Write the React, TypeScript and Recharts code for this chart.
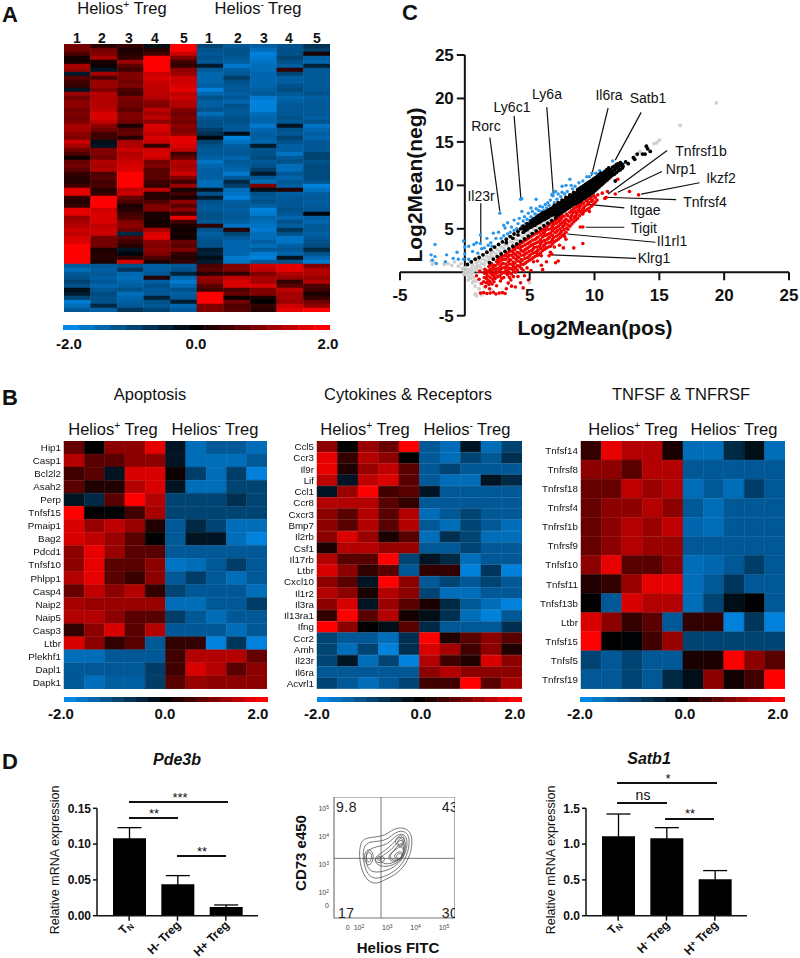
import React from "react";
import {
    Bar,
    BarChart,
    Cell,
    ErrorBar,
    ReferenceArea,
    ReferenceLine,
    Scatter,
    ScatterChart,
    XAxis,
    YAxis,
} from "recharts";

const FONT = "'Liberation Sans', Arial, sans-serif";

// --- heatmap values (z-score) ---
const heatA = [
    [0.9, 0.3, 0.4, -0.2, 2, -1, -1.3, -1.4, -1.2, -0.7],
    [0.9, 0.9, 0.2, 0.3, 2, -1.2, -1.2, -1.6, -1.2, -0.9],
    [0.6, 1, 0.3, 0.5, 1.6, -1.3, -1.2, -1.9, -1.2, 0.2],
    [0.15, 1.3, 0.4, 2, 1, -1.2, -1.3, -1.8, -1, -1.4],
    [0.15, 0.2, 1.2, 2, 0.5, -1.3, -1.4, -1.7, -1.2, -1.5],
    [1.3, 0.1, 0.7, 2, 0.4, -0.4, -1.8, -1.6, -1.4, -0.5],
    [1.2, -0.3, 0.5, 2, 1.1, -1.3, -1.4, -1.6, 0.4, -1.3],
    [-0.4, 1.3, 1, 1.6, 1.2, -1.5, -1.3, -1.5, -1, -1.3],
    [0.7, 0.6, 1, 1.7, 1.6, -1.5, -0.9, -1.5, -1.4, -1.3],
    [0.5, 1.2, 0.9, 1.6, 1.6, -1.5, -1.2, -1.5, -1.4, -1.3],
    [0.4, 1.2, 1, 1.5, 1.7, -1.4, -1.3, -1.5, -1.2, -1.3],
    [-0.3, 1, 0.6, 1.5, 1.8, -1.9, -1.3, -1.4, -1.1, -1.3],
    [1.2, 1.4, 0.5, 1.5, 1.5, -1.5, -1.4, -1.3, -1.3, -1.2],
    [0.9, 1.4, 1, 1.4, 1.6, -1.2, -1.3, -1.8, -1.5, -1.4],
    [1.1, 1.4, 0.9, 1.1, 1.4, -1.4, -1.5, -1.9, -1.4, -1.3],
    [1.1, 1.4, 0.9, 1, 1.4, -1.4, -1.2, -1.9, -1.3, -1.3],
    [0.9, 1.5, 0.7, 1.5, 1, -1.2, -1.3, -1.9, -1.3, -1.3],
    [1, 1.7, 1, 1.3, 0.9, -1.6, -1.3, -1.6, -1.3, -1.3],
    [0.9, 1.7, 1, 1.5, 1, -1.3, -1.2, -1.5, -1.2, -1.4],
    [1, 1.5, 0.9, 1.1, 0.9, -1.2, -1.2, -1.5, -1.3, -1.2],
    [1.3, 1.1, 0.2, 1.7, 1.1, -1.2, -1.3, -1.8, -0.3, -1.7],
    [1.3, 0.9, 0.7, 1.7, 1, -0.9, -1.3, -1.5, -1.2, -1.5],
    [1.1, 0.5, 0.8, 1.5, 1.1, -0.7, -0.2, -1.4, -1.3, -1.4],
    [1, 0.5, 0.3, 1.7, 1.8, -0.1, -1.9, -1.4, -1, -1.5],
    [1.6, -0.2, 1.3, 1.6, 1.8, -1, -1.7, -1.5, -1.2, -1.3],
    [1.3, -0.3, 1.4, 0.4, 1.7, -1.2, -1.4, -0.4, -1.4, -1.3],
    [0.9, 1, 1.6, 1.6, 1.5, -1.3, -1.3, -1.2, -1.4, -1.3],
    [0.6, 1, 1.4, 1.7, 0.5, -1.3, -1.3, -1.2, -1.7, -1],
    [0.1, 0.9, 1.5, 1.6, 0.8, -1.4, -1.5, -1.1, -1.3, -1],
    [0.8, 1.4, 1.6, 0.9, 1.4, -1.7, -1.3, -1.3, -1.2, -1.2],
    [0.9, 1.3, 1.7, 1, 1.3, -1.5, -1.4, -1.2, -1.6, -1.1],
    [0.7, 1.4, 1.7, 0.7, 1.4, -1.4, -1.5, -0.9, -1.6, -1.1],
    [0.4, 0.6, 2, 0.7, 1.6, -1.4, -1.8, -0.4, -1.3, -1.1],
    [0.3, 0.7, 2, 0.7, 1, -1.4, -1.3, -1.3, -1.5, -1.1],
    [0.3, 0.5, 2, 0.5, 0.5, -1.6, -0.6, -1.6, -1.3, -1.2],
    [0.5, 0.6, 2, 0.4, 1.2, -1.6, -0.9, 1, -1.4, -1.9],
    [1.8, 0.3, 1.5, 1.5, 0.2, -0.3, -1.6, -0.2, 0.3, -1.7],
    [1.8, 0.4, 1.6, 0.3, 0.5, -1.2, -1.7, -1.2, -1.4, -1.4],
    [0.4, 2, 0.8, 0.3, 0.2, -0.4, -1.9, -1.3, -1.3, -1.3],
    [0.3, 2, 0.6, 0.6, 1.1, -1.2, -1.4, -1.2, -1.3, -1.4],
    [0.4, 2, 0.2, 1, 0.7, -1.3, -1.3, -1.4, -1.3, -1.3],
    [1.8, 1.6, 0.3, 1, 1.1, -1.3, -1.4, -1.9, -1.2, -1.3],
    [1.8, 1.7, 0.5, 0.2, 0.5, -1.2, -1.3, -1.8, -1.3, -0.1],
    [1.2, 1.7, 0.6, 0.2, 1.8, -1.2, -1.3, -1.5, -1.5, -1.4],
    [1.3, 1.7, 1, 0.1, 0.5, -1.3, -1.4, -1.6, -1.2, -1.5],
    [1.4, 1.5, 1.1, 0.2, 0.2, 0.4, -1.7, -1.7, -1.4, -1.3],
    [1.6, 1.6, 0.9, 1.3, 0.1, -1.2, 0.3, -1.8, -0.8, -1.3],
    [1.5, 1.6, -0.6, 1.7, 0.2, -1.4, -1, -1.6, -1.2, -1.4],
    [1.7, 0.9, 0.7, 1.8, 0.1, -1.3, -1.3, -1.6, -1.7, -1.3],
    [1.7, 0.9, 0.5, 1.1, 0.8, -1.2, -1.5, -1.4, -1.7, -1.2],
    [2, 0.9, 0.3, 1, 0.7, -1.2, -1.5, -1.6, -1.4, -1.1],
    [2, 0.2, -0.3, 1.1, 1, -0.4, -1.5, -1.3, -1.3, -0.6],
    [2, 0.3, -0.1, 1, 0.4, -0.5, -1.5, -1.8, -1.5, -1.2],
    [2, 0.3, 0.4, 0.6, 0.3, -0.2, -1.8, -1.9, -0.3, -1.5],
    [2, 0.2, 1.7, 0.2, 0.4, -0.4, -1.7, -1.3, -1.2, -1.8],
    [-1.3, -1.3, -1.2, -1.4, -1.3, 0.6, 1, 1.6, 1.8, 1],
    [-1.6, -1.4, -0.8, -1.4, -1.2, 0.7, 1, 1.5, 1.8, 1.4],
    [-1.3, -1.3, -1.5, -1.3, -0.5, 0.3, 0.4, 1, 1.4, 1.4],
    [-1.2, -1.4, -1.6, 0.3, -1.5, 1.2, 1.5, 1.3, 1.2, 1.2],
    [-1, -1.3, -1.5, -1.4, -1.8, 1.1, 1.7, 1.3, 0.4, 1.4],
    [-1.2, -1.5, -1.4, -1.2, -1.5, 0.7, 1.7, 1.7, 0.7, 0.6],
    [-0.2, -1.3, -1.2, -1.3, -1.2, 0.5, 0.6, 1, 1.5, 0.5],
    [-0.4, -1.1, -1.6, -1.3, -1.4, 2, 0.8, 1, 1.3, 0.2],
    [-1, -1.2, -1.5, -0.5, -1.3, 2, 0.1, 0.2, 1.3, 0.4],
    [-1.8, -1.2, -1.4, -1.2, -0.4, 2, 0.9, 0, 1.2, 0.9],
    [-1.6, -0.6, -1.3, -1.3, -1.5, 1, 0.6, 0.4, 1.6, 1.1],
    [-1.3, -1.4, -0.8, -1, -1.3, 1, 0.7, 0.3, 1.8, 2],
];

const apoptosisGenes = ["Hip1", "Casp1", "Bcl2l2", "Asah2", "Perp", "Tnfsf15", "Pmaip1", "Bag2", "Pdcd1", "Tnfsf10", "Phlpp1", "Casp4", "Naip2", "Naip5", "Casp3", "Ltbr", "Plekhf1", "Dapl1", "Dapk1"];
const apoptosisHeat = [
    [0.8, 0, 1.1, 1.1, 1.8, -0.3, -1.6, -1.3, -1.3, -1.6],
    [1.4, 0.7, 0.7, 1.1, 1.1, -0.3, -1.6, -1.6, -1.6, -1.3],
    [0.5, 0.7, -0.3, 1.7, 1.7, 0.1, -0.9, -1.6, -0.9, -1.9],
    [0.7, 0.25, 0.25, 1.4, 1.7, -0.3, -1.6, -1.6, -1, -1],
    [-0.3, -0.6, 0.7, 2, 1.4, -1, -1, -1, -0.7, -1],
    [2, 0, -0.05, 0.5, 1.3, -1, -1, -1, -1, -1],
    [1.7, 1.2, 1.5, 1.2, 0.25, -1.3, -0.6, -1, -1.6, -1.6],
    [1.7, 1.5, 1.2, 0.7, 0, -1.3, -0.3, -0.3, -1.6, -1.9],
    [1.1, 1.8, 1.2, 0.7, 0.7, -1.3, -1.3, -1.3, -1.3, -1.3],
    [1.1, 1.8, 0.7, 0.7, 1.1, -1.7, -1.6, -1.3, -0.9, -1.3],
    [1.4, 1.8, 0.7, 0.45, 1.1, -1.3, -0.9, -1.3, -1.6, -1.3],
    [0.8, 1.5, 1.1, 1.4, 0.4, -1, -1.3, -1.3, -1.3, -1.6],
    [1.3, 1.2, 1.2, 1.2, 1.2, -1.6, -1.6, -1.3, -1.3, -0.9],
    [1.4, 1.4, 1.1, 0.7, 0.7, -0.9, -1.3, -1.6, -1.3, -1.3],
    [0.4, 1.1, 1.7, 0.7, 1.4, -1.3, -1.3, -1.3, -1.6, -1.3],
    [1.7, 1.1, 0.4, 0.7, -1.3, 0.4, 0.4, -1.9, -0.8, -1.9],
    [-1.6, -1.6, -1.3, -1.3, -1.3, 0.5, 1.4, 1.4, 1.4, 0.8],
    [-1.3, -1.3, -1.3, -1.3, -0.9, 0.5, 1.7, 1.4, 0.7, 1.1],
    [-1.3, -1.6, -1.4, -1.4, -0.9, 0.7, 1.2, 1.1, 1.1, 1.1],
];

const cytokineGenes = ["Ccl5", "Ccr3", "Il9r", "Lif", "Ccl1", "Ccr8", "Cxcr3", "Bmp7", "Il2rb", "Csf1", "Il17rb", "Ltbr", "Cxcl10", "Il1r2", "Il3ra", "Il13ra1", "Ifng", "Ccr2", "Amh", "Il23r", "Il6ra", "Acvrl1"];
const cytokineHeat = [
    [1.1, 0, 1.2, 0.8, 2, -1.3, -1.6, -0.3, -1.6, -1],
    [1.8, 0.4, 1.4, 1.1, 0, -1.3, -1.6, -1, -1.3, -0.7],
    [1.8, 0.25, 1.2, 1.5, 0.7, -1.3, -1, -1.3, -1.3, -1.3],
    [1.5, -0.3, 1.5, 1.7, 0.7, -1.3, -1.6, -1.6, -0.3, -0.6],
    [-0.3, 1.2, 2, 0.5, 0.7, -0.3, -1.3, -1.3, -1.3, -1.3],
    [1.4, 1.4, 1.4, 0.7, 0.4, -1.3, -1.3, -1.3, -1.3, -1.3],
    [1.1, 0.7, 1.4, 0.7, 1.4, -1.6, -1.3, -1, -1.3, -1.3],
    [1.1, 0.7, 1.4, 0.7, 1.4, -1.3, -1.6, -1, -1.3, -1.6],
    [1.1, 1.7, 1.2, 0.2, 0.7, -1.6, -0.7, -1, -1.6, -1.6],
    [0.2, 1.4, 1.4, 1.2, 1.2, -1.3, -1.3, -1, -1.3, -1.3],
    [1.4, 0.7, 0.7, 2, -1, -0.3, -0.6, -1.6, -1.3, -1.3],
    [1.7, 1.1, 0.4, 0.7, -1.3, 0.4, 0.4, -1.9, -0.8, -1.9],
    [1.1, 0.7, -0.3, 2, 1.1, -1.3, -1, -1.3, -1, -1.3],
    [1.4, 1.1, 0.2, 1.4, 1.1, -1, -1.6, -1.6, -1.3, -1.3],
    [1.1, 1.7, -0.3, 1.2, 0.7, 0.2, -0.6, -1.3, -1.6, -1.9],
    [0.4, 2, 0.7, 1.4, 0.15, -0.2, -0.7, -1.6, -1.9, -1.3],
    [2, 1.1, 0, -0.2, 0.7, -0.6, -1.3, -1.3, -1.3, -0.7],
    [-1, -1.3, -1.3, -1.6, -0.7, 2, 0.25, 0.7, 1.1, 0.7],
    [-1, -1.6, -1, -1.9, -0.7, 1.7, 1.3, 0.5, 1.1, 0.25],
    [-1, -0.3, -1.6, -1, -1.9, 1.4, 0.5, 0.25, 1.7, 1.1],
    [-1.3, -1.3, -1.3, -1.3, -1.3, 1.1, 1.4, 1.1, 1.1, 1.1],
    [-1, -1.3, -1.6, -1.3, -1, 0.5, 0.5, 2, 0.7, 1.3],
];

const tnfGenes = ["Tnfsf14", "Tnfrsf8", "Tnfrsf18", "Tnfrsf4", "Tnfrsf1b", "Tnfrsf9", "Tnfsf10", "Tnfsf11", "Tnfsf13b", "Ltbr", "Tnfsf15", "Tnfsf5", "Tnfrsf19"];
const tnfHeat = [
    [0.4, 1.8, 1.4, 1.4, 0.2, -1.6, -1.6, -0.6, -0.2, -1.6],
    [1.1, 1.1, 0.7, 1.4, 1.4, -1.3, -1.3, -1.3, -1.3, -1.3],
    [0.8, 0.8, 1.5, 1.2, 1.4, -1.6, -1.3, -1.6, -0.9, -1.3],
    [0.8, 1.1, 1.1, 1.4, 1.1, -1.3, -1.6, -1.3, -1.3, -1.3],
    [0.8, 1.1, 1.4, 1.2, 1.5, -1.5, -1.6, -1.3, -1.3, -1.3],
    [0.8, 1.1, 1.4, 1.2, 1.2, -1.3, -1.3, -1.3, -1.3, -1.3],
    [1.1, 1.8, 0.7, 0.7, 1.1, -1.6, -1.5, -1.3, -0.9, -1.3],
    [0.25, 0.4, 1.2, 1.8, 1.8, -1.6, -1.3, -0.8, -1.3, -1.3],
    [0, -1.3, 1.7, 1.4, 1.4, -1.6, -1, -0.2, 0, -1.3],
    [1.7, 1.1, 0.4, 0.7, -1.3, 0.4, 0.4, -1.9, -0.8, -1.9],
    [2, 0, -0.05, 0.5, 1.2, -1, -1, -1, -1, -1],
    [-1, -1.3, -1, -1.3, -1.3, 0.2, 0.2, 2, 1.1, 0.7],
    [-1.3, -1.3, -1, -1.3, -0.6, -0.2, 1.1, 0.15, 0.5, 2],
];

const colorbarSteps = [-2, -1.75, -1.5, -1.25, -1, -0.75, -0.5, -0.25, 0, 0.25, 0.5, 0.75, 1, 1.25, 1.5, 1.75, 2];
const sampleLabels = ["1", "2", "3", "4", "5", "1", "2", "3", "4", "5"];

// --- volcano-like scatter, log2 mean (pos, neg) ---
const grayPts = [
    [19.4, 19.5], [16.6, 16.9], [15, 15.2], [14.6, 14.8], [14.8, 14.9], [13.2, 13.5], [13.5, 13.9],
    [-2.6, 1.3], [-2.5, 0.9], [-2.4, 1.2], [-1.6, 0.9], [-1.3, 1], [-1, 0.8], [-0.8, 1.2], [-0.5, 0.7], [-0.3, 1],
    [-0.2, 0.4], [0, 0.1], [0, 0.5], [0.1, -0.3], [0.2, 0.3], [0.2, 0.8], [0.3, -0.5], [0.4, 0], [0.5, 0.5], [0.5, -0.3],
    [0.6, 0.9], [0.7, 0.2], [0.7, -0.6], [0.8, 0.6], [0.9, 1.1], [1, 0.2], [1, 0.8], [1.1, 1.3], [1.2, 0.6], [1.3, 1],
    [1.4, 1.5], [1.5, 0.9], [1.6, 1.3], [1.7, 1.8], [1.8, 1.3], [1.9, 1.7], [2, 2.1], [2.1, 1.8], [2.2, 2.3], [2.4, 2.1],
    [2.5, 2.6], [2.7, 2.4], [2.8, 2.9], [3, 2.8], [3.1, 3.2], [3.3, 3.1], [3.5, 3.5], [3.7, 3.4], [3.9, 3.8], [4.1, 3.7],
    [4.3, 4.2], [4.5, 4], [4.7, 4.4], [5, 4.6], [5.3, 4.9], [5.6, 5.2], [5.9, 5.5], [6.2, 5.8], [6.5, 6.1], [6.8, 6.4],
    [0.6, -1.2], [0.8, -1.6], [0.9, -1], [1.1, -1.9], [1.2, -1.3], [1.5, -1.7], [0.8, -2.5], [0.9, -2.7], [1.3, -2.6], [1.7, -1.1],
    [2, -2], [3.3, 1], [3.8, 0.8], [4.3, 1.3], [2.8, 0.4], [3.6, 0.2], [5, -1.2],
    [-0.1, -0.2], [0.25, -0.9], [0.45, -0.7], [0.7, -1], [0.4, 0.3], [0.9, 0.5], [1.3, 0.3], [0.6, 0.1], [0.15, 0.1],
];

const bluePts = [
    [-2.3, 3.2], [-2.6, 2], [-2.3, 1.8], [-2.5, 1.4], [-2.2, 1], [-1.4, 2], [-1.5, 1.2], [-0.9, 1.6], [-0.1, 3.6], [0, 2.9],
    [-0.6, 2.3], [-0.5, 1.5], [0, 2.1], [0.3, 1.5], [-0.1, 1.5], [0.3, 3], [0.6, 2.4], [0.7, 3.2], [1, 2.2], [1.2, 3.3],
    [1.2, 4.3], [1.3, 2.7], [1.5, 2.8], [1.7, 3.9], [1.8, 3.1], [2, 3.4], [2.2, 4.5], [2.4, 3.9], [2.7, 6.8], [2.6, 4.6],
    [2.8, 3.9], [3, 4.2], [3.1, 5.1], [3.3, 4.4], [3.3, 5.7], [3.5, 4.6], [3.6, 5.2], [3.8, 4.8], [3.8, 6], [4, 5],
    [4.1, 5.6], [4.2, 6.2], [4.3, 8.4], [4.4, 8.45], [4.4, 5.3], [4.5, 5.9], [4.6, 6.4], [4.7, 5.6], [4.8, 6.1], [4.9, 6.8],
    [5, 5.9], [5.1, 6.4], [5.2, 7], [5.3, 6.2], [5.4, 6.7], [5.5, 8.4], [5.5, 7.3], [5.6, 6.6], [5.7, 7.1], [5.8, 7.6],
    [5.9, 7], [6, 7.5], [6.1, 7.1], [6.2, 7.8], [6.3, 7.4], [6.4, 8], [6.5, 7.7], [6.6, 8.3], [6.8, 9.1], [6.8, 8.8],
    [6.9, 8], [7.1, 8.4], [7.2, 9], [7.4, 8.7], [7.5, 9.9], [7.5, 9.2], [7.7, 9], [7.8, 10], [7.9, 9.3], [8.1, 10.7],
    [8.2, 10], [8.3, 9.6], [8.5, 9.9], [8.8, 10.3], [9.1, 10.5], [9.4, 11], [9.6, 11], [9.8, 11.4], [10.1, 11.4], [10.4, 11.7],
    [11.4, 12.8], [0.9, 3.4], [2.1, 3], [3, 5.4], [4.4, 7], [5.1, 7.4], [6.7, 8.9], [7, 9.3],
];

const redPts = [
    [1.2, -2.4], [1.45, -2.35], [1.7, -2.45], [1.95, -2.4], [2.2, -2.3], [2.4, -2.5], [2.65, -2.4], [2.9, -2.35], [3.1, -2.45],
    [0.9, -0.4], [1.1, -0.8], [1.15, 0.1], [1.3, -1.3], [1.5, -0.1], [1.55, 0.35], [1.5, -0.6], [1.45, -1.1], [1.6, -1.65],
    [1.8, 0.1], [1.85, 0.65], [1.75, -0.4], [1.8, -0.95], [1.85, -1.4], [1.9, -1.9], [2.1, 0.2], [2.15, 0.55], [2.05, 1], [2.1, -0.3], [2.15, -0.8], [2.1, -1.35],
    [2.4, 0.3], [2.35, 0.75], [2.45, 1.2], [2.4, -0.2], [2.35, -0.7], [2.45, -1.55], [2.7, 0.2], [2.75, 0.7], [2.65, 1.2], [2.7, 1.65], [2.7, -0.4], [2.75, -1],
    [3, 0], [3.05, 0.55], [2.95, 1], [3, 1.5], [3.05, 1.9], [3, -0.6], [3.3, 0.2], [3.25, 0.7], [3.35, 1.2], [3.3, 1.75], [3.25, 2.2], [3.3, -0.3], [3.35, -1.25],
    [3.6, 0.4], [3.65, 0.9], [3.55, 1.4], [3.6, 1.95], [3.65, 2.45], [3.6, -0.2], [3.55, -0.9], [3.9, 0.5], [3.85, 1.05], [3.95, 1.5], [3.9, 2.05], [3.85, 2.6], [3.95, 2.95], [3.9, 0],
    [4.2, 0.7], [4.25, 1.2], [4.15, 1.7], [4.2, 2.2], [4.25, 2.75], [4.2, 3.2], [4.5, 0.9], [4.45, 1.4], [4.55, 1.95], [4.5, 2.4], [4.45, 3], [4.5, 3.5], [4.5, 0.2],
    [4.8, 1.2], [4.85, 1.7], [4.75, 2.2], [4.8, 2.75], [4.85, 3.3], [4.8, 3.8], [4.8, 0.5], [5.1, 1.5], [5.05, 2], [5.15, 2.5], [5.1, 3.05], [5.05, 3.5], [5.1, 4.1],
    [5.4, 1.8], [5.45, 2.3], [5.35, 2.85], [5.4, 3.3], [5.45, 3.8], [5.4, 4.4], [5.7, 2], [5.65, 2.55], [5.75, 3], [5.7, 3.5], [5.65, 4.05], [5.7, 4.6],
    [6, 2.5], [6.05, 3], [5.95, 3.5], [6, 4.05], [6.05, 4.5], [6, 4.9], [6.3, 2.8], [6.25, 3.35], [6.35, 3.8], [6.3, 4.3], [6.25, 4.85], [6.3, 5.2],
    [6.6, 3], [6.65, 3.5], [6.55, 4.05], [6.6, 4.5], [6.65, 5], [6.6, 5.6], [6.9, 3.5], [6.85, 4], [6.95, 4.55], [6.9, 5], [6.85, 5.5], [6.9, 5.9],
    [7.2, 3.8], [7.25, 4.35], [7.15, 4.8], [7.2, 5.3], [7.25, 5.85], [7.2, 6.2], [7.5, 4.2], [7.45, 4.7], [7.55, 5.25], [7.5, 5.7], [7.45, 6.2], [7.5, 6.5],
    [7.8, 4.6], [7.85, 5.1], [7.75, 5.65], [7.8, 6.1], [7.85, 6.7], [8.1, 5.3], [8.05, 5.85], [8.15, 6.3], [8.1, 6.9], [8.4, 5.8], [8.45, 6.3], [8.35, 6.85], [8.4, 7.3],
    [8.7, 6.2], [8.65, 6.75], [8.75, 7.2], [8.7, 7.6], [9, 6.8], [9.05, 7.2], [8.95, 7.7], [9, 8], [9.3, 7.1], [9.25, 7.6], [9.35, 8.2], [9.6, 7.4], [9.55, 8], [9.65, 8.5],
    [9.9, 7.8], [9.85, 8.3], [9.95, 8.8], [10.2, 8.3], [10.25, 8.9], [10.6, 9.1], [10.9, 8.6], [10.8, 8.5], [11, 9.3], [11.6, 9], [12.7, 9.3], [13.4, 8.9], [11.8, 10.7],
    [8.9, 5.2], [9.1, 5.2], [9.1, 3.3], [8.4, 2.8], [7.6, 2.8], [6.7, 2.1], [6.5, 1.9], [7.2, 1.3], [7, 1.1], [7.8, 3.8], [7.7, 4.1], [6.3, 1.2], [5.9, 1.9], [5.6, 1.3], [5.9, 0.8], [5.3, 1.2],
    [6, 0.3], [5.1, 0.2], [4.6, -0.4], [4.9, -0.9], [4.1, -0.5], [4.3, -1.2], [3.9, -1.7], [3.6, -1.6], [4.5, -1.8], [3.2, -1.9], [5.6, 2.1], [6.6, 2.3], [6.9, 2.9], [7.3, 3.1], [9.1, 6.7], [9.6, 7],
    [1.65, -0.2], [1.65, 0.2], [1.65, -0.7], [1.65, -1.2], [1.95, 0.3], [1.95, 0.8], [1.95, -0.1], [1.95, -0.6], [1.95, -1.1], [2.25, 0.4], [2.25, 0.8], [2.25, -0.1], [2.25, -0.5], [2.25, -1.1],
    [2.55, 0.45], [2.55, 0.95], [2.55, 1.45], [2.55, 0], [2.55, -0.5], [2.85, 0.45], [2.85, 0.95], [2.85, 1.4], [2.85, 1.8], [2.85, -0.15], [2.85, -0.7], [3.15, 0.1], [3.15, 0.45], [3.15, 0.95], [3.15, 1.5], [3.15, 2], [3.15, -0.1],
    [3.45, 0.45], [3.45, 0.95], [3.45, 1.45], [3.45, 1.95], [3.45, 2.4], [3.45, -0.05], [3.45, -0.6], [3.75, 0.65], [3.75, 1.15], [3.75, 1.7], [3.75, 2.2], [3.75, 2.75], [3.75, 0.2], [3.75, -0.5],
    [4.05, 0.75], [4.05, 1.3], [4.05, 1.8], [4.05, 2.3], [4.05, 2.85], [4.05, 3.15], [4.05, 0.25], [4.35, 0.95], [4.35, 1.45], [4.35, 1.95], [4.35, 2.5], [4.35, 3], [4.35, 3.4], [4.35, 0.45],
    [4.65, 1.05], [4.65, 1.6], [4.65, 2.1], [4.65, 2.6], [4.65, 3.15], [4.65, 3.65], [4.95, 1.35], [4.95, 1.85], [4.95, 2.4], [4.95, 2.9], [4.95, 3.4], [4.95, 3.95],
    [5.25, 1.65], [5.25, 2.2], [5.25, 2.65], [5.25, 3.2], [5.25, 3.7], [5.25, 4.25], [5.55, 1.9], [5.55, 2.4], [5.55, 2.9], [5.55, 3.4], [5.55, 3.95], [5.55, 4.5],
    [5.85, 2.25], [5.85, 2.75], [5.85, 3.25], [5.85, 3.75], [5.85, 4.3], [5.85, 4.75], [6.15, 2.65], [6.15, 3.15], [6.15, 3.65], [6.15, 4.2], [6.15, 4.65], [6.15, 5.05],
    [6.45, 2.9], [6.45, 3.4], [6.45, 3.9], [6.45, 4.4], [6.45, 4.95], [6.45, 5.4], [6.75, 3.25], [6.75, 3.75], [6.75, 4.25], [6.75, 4.75], [6.75, 5.25], [6.75, 5.75],
    [7.05, 3.65], [7.05, 4.15], [7.05, 4.65], [7.05, 5.15], [7.05, 5.65], [7.05, 6.05], [7.35, 4], [7.35, 4.5], [7.35, 5], [7.35, 5.5], [7.35, 6], [7.35, 6.35],
    [7.65, 4.4], [7.65, 4.9], [7.65, 5.4], [7.65, 5.9], [7.65, 6.45], [7.95, 4.95], [7.95, 5.45], [7.95, 5.95], [7.95, 6.5], [8.25, 5.55], [8.25, 6.05], [8.25, 6.55], [8.25, 7.1],
    [8.55, 6], [8.55, 6.5], [8.55, 7], [8.55, 7.45], [8.85, 6.5], [8.85, 7], [8.85, 7.45], [8.85, 7.85], [9.15, 6.95], [9.15, 7.4], [9.15, 7.95], [9.45, 7.25], [9.45, 7.8], [9.45, 8.3],
    [9.75, 7.6], [9.75, 8.15], [9.75, 8.65], [10.05, 8.05], [10.05, 8.6],
];

const blackPts = [
    [0.2, 0.9], [0.5, 1.2], [0.8, 1.5], [1.1, 1.7], [1.4, 2], [1.7, 2.3], [2, 2.6], [2.3, 2.9], [2.6, 3.2], [2.9, 3.5], [3.2, 3.8], [3.5, 4.1], [3.8, 4.4], [4.1, 4.7], [4.3, 5], [3.2, 3.4], [3.7, 3.9], [4.1, 4.3],
    [1.9, 1.1], [2.2, 1.5], [2.5, 1.8], [2.8, 2.1], [3.1, 2.4], [3.4, 2.7], [3.7, 3], [4, 3.25], [4.3, 3.55], [4.6, 3.85], [4.9, 4.15], [5.2, 4.45], [5.5, 4.75], [5.8, 5.05], [6.1, 5.35], [6.4, 5.65], [6.7, 5.95], [7, 6.25],
    [4.5, 4.6], [4.5, 5], [4.5, 5.3], [4.8, 4.9], [4.8, 5.3], [4.8, 5.6], [5.1, 5.2], [5.1, 5.6], [5.1, 5.9], [5.4, 5.4], [5.4, 5.8], [5.4, 6.2], [5.7, 5.7], [5.7, 6.1], [5.7, 6.5], [6, 6], [6, 6.4], [6, 6.8],
    [6.3, 6.2], [6.3, 6.6], [6.3, 7], [6.6, 6.5], [6.6, 6.9], [6.6, 7.3], [6.9, 6.7], [6.9, 7.1], [6.9, 7.5], [6.9, 7.7], [7.2, 6.6], [7.2, 7], [7.2, 7.4], [7.2, 7.8], [7.2, 8],
    [7.5, 6.9], [7.5, 7.3], [7.5, 7.7], [7.5, 8.1], [7.5, 8.3], [7.8, 7.2], [7.8, 7.6], [7.8, 8], [7.8, 8.4], [7.8, 8.6], [8.1, 7.5], [8.1, 7.9], [8.1, 8.3], [8.1, 8.7], [8.1, 8.9],
    [8.4, 7.8], [8.4, 8.2], [8.4, 8.6], [8.4, 9], [8.4, 9.2], [8.7, 8], [8.7, 8.4], [8.7, 8.8], [8.7, 9.2], [8.7, 9.5], [9, 8.3], [9, 8.7], [9, 9.1], [9, 9.5], [9, 9.8],
    [9.3, 8.6], [9.3, 9], [9.3, 9.4], [9.3, 9.8], [9.3, 10.1], [9.6, 8.9], [9.6, 9.3], [9.6, 9.7], [9.6, 10.1], [9.6, 10.4], [9.9, 9.2], [9.9, 9.6], [9.9, 10], [9.9, 10.4], [9.9, 10.7],
    [10.2, 9.6], [10.2, 10], [10.2, 10.4], [10.2, 10.8], [10.2, 11], [10.5, 10], [10.5, 10.4], [10.5, 10.8], [10.5, 11.2], [10.5, 11.4], [10.8, 10.4], [10.8, 10.8], [10.8, 11.2], [10.8, 11.6],
    [11.1, 10.8], [11.1, 11.2], [11.1, 11.6], [11.1, 12], [11.4, 11.2], [11.4, 11.6], [11.4, 12.1], [11.7, 11.5], [11.7, 12], [11.7, 12.4], [12, 11.8], [12, 12.3], [12, 12.6],
    [11.6, 10.5], [12.2, 12.2], [12.4, 12.7], [12.6, 12.5], [13, 13.2], [13.1, 13], [13.3, 13.6], [13.7, 13.6], [13.9, 13.6], [14, 14.5], [14.3, 13.9], [14.1, 14.2],
    [4.65, 4.8], [4.65, 5.2], [4.95, 5.1], [4.95, 5.5], [5.25, 5.35], [5.25, 5.75], [5.25, 6.05], [5.55, 5.6], [5.55, 6], [5.55, 6.35], [5.85, 5.85], [5.85, 6.25], [5.85, 6.65], [6.15, 6.1], [6.15, 6.5], [6.15, 6.9],
    [6.45, 6.35], [6.45, 6.75], [6.45, 7.15], [6.75, 6.6], [6.75, 7], [6.75, 7.4], [7.05, 6.5], [7.05, 6.9], [7.05, 7.3], [7.05, 7.7], [7.35, 6.75], [7.35, 7.15], [7.35, 7.55], [7.35, 7.95],
    [7.65, 7.05], [7.65, 7.45], [7.65, 7.85], [7.65, 8.25], [7.95, 7.35], [7.95, 7.75], [7.95, 8.15], [7.95, 8.55], [8.25, 7.65], [8.25, 8.05], [8.25, 8.45], [8.25, 8.85], [8.55, 7.9], [8.55, 8.3], [8.55, 8.7], [8.55, 9.1],
    [8.85, 8.15], [8.85, 8.55], [8.85, 8.95], [8.85, 9.35], [8.85, 9.65], [9.15, 8.45], [9.15, 8.85], [9.15, 9.25], [9.15, 9.65], [9.15, 9.95], [9.45, 8.75], [9.45, 9.15], [9.45, 9.55], [9.45, 9.95], [9.45, 10.25],
    [9.75, 9.05], [9.75, 9.45], [9.75, 9.85], [9.75, 10.25], [9.75, 10.55], [10.05, 9.4], [10.05, 9.8], [10.05, 10.2], [10.05, 10.6], [10.05, 10.85], [10.35, 9.8], [10.35, 10.2], [10.35, 10.6], [10.35, 11], [10.35, 11.25],
    [10.65, 10.2], [10.65, 10.6], [10.65, 11], [10.65, 11.4], [10.95, 10.6], [10.95, 11], [10.95, 11.4], [10.95, 11.8], [11.25, 11], [11.25, 11.4], [11.25, 11.8], [11.55, 11.3], [11.55, 11.8], [11.55, 12.2], [11.85, 11.7], [11.85, 12.1], [11.85, 12.5], [12.15, 12], [12.15, 12.4],
];

// gene callouts: [x0, y0, x1, y1] in data units
const calloutSegments = [
    [1.23, 7.94, 1.23, 3.45], [1.93, 15.5, 2.7, 7], [3.8, 18, 4.32, 8.55], [6.32, 19, 6.81, 9.2], [11.05, 18.9, 9.77, 11.1], [13.6, 18.4, 11.6, 12.9], [15.6, 14, 11.05, 9],
    [15.2, 11.6, 11.8, 9.2], [18.1, 10.3, 13.6, 9], [16.3, 8.36, 10.8, 8.63], [12.3, 7.4, 9.5, 7.8], [12.3, 5.18, 9.33, 5.18], [14.7, 3.45, 7.9, 4.4], [13.2, 1.6, 6.7, 2],
];
const calloutLabels = [
    ["Ly6a", 547, 94], ["Il6ra", 609, 95], ["Satb1", 648, 98], ["Ly6c1", 512, 107], ["Rorc", 486, 126], ["Il23r", 481, 196], ["Tnfrsf1b", 701, 151],
    ["Nrp1", 681, 169], ["Ikzf2", 721, 178], ["Tnfrsf4", 705, 202], ["Itgae", 645, 210], ["Tigit", 644, 228], ["Il1rl1", 672, 241], ["Klrg1", 654, 258],
];
const scatterTicks = [-5, 5, 10, 15, 20, 25];

// --- qPCR bars ---
const pde3bNames = ["TN", "H- Treg", "H+ Treg"];
const pde3bMeans = [0.108, 0.044, 0.012];
const pde3bErrs = [0.015, 0.012, 0.003];
const satb1Names = ["TN", "H- Treg", "H+ Treg"];
const satb1Means = [1.11, 1.08, 0.51];
const satb1Errs = [0.31, 0.15, 0.12];

// --- flow contours, log10 units ---
const flowContours = [
    [[2.0, 3.26], [2.05, 3.78], [2.25, 3.94], [2.62, 3.96], [2.92, 4.02], [3.15, 4.2], [3.39, 4.3], [3.66, 4.27], [3.86, 4.08], [3.88, 3.68], [3.8, 3.3], [3.6, 2.92], [3.3, 2.62], [2.94, 2.45], [2.62, 2.27], [2.3, 2.38], [2.1, 2.76]],
    [[2.14, 3.26], [2.17, 3.64], [2.37, 3.8], [2.74, 3.8], [3.04, 3.9], [3.27, 4.12], [3.53, 4.2], [3.76, 4.06], [3.79, 3.67], [3.67, 3.24], [3.42, 2.85], [3.0, 2.58], [2.62, 2.46], [2.36, 2.55], [2.2, 2.88]],
    [[2.24, 3.2], [2.29, 3.5], [2.62, 3.62], [2.98, 3.68], [3.21, 3.92], [3.45, 4.1], [3.67, 4.02], [3.72, 3.68], [3.6, 3.24], [3.3, 2.92], [2.94, 2.74], [2.5, 2.68], [2.29, 2.86]],
    [[2.56, 3.26], [2.9, 3.46], [3.19, 3.7], [3.38, 3.96], [3.6, 3.97], [3.67, 3.62], [3.55, 3.18], [3.23, 2.96], [2.86, 2.88], [2.56, 3.02]],
    [[2.68, 3.22], [3.02, 3.4], [3.25, 3.62], [3.41, 3.84], [3.58, 3.86], [3.63, 3.52], [3.49, 3.16], [3.17, 3.02], [2.84, 2.98]],
    [[2.98, 3.24], [3.24, 3.48], [3.42, 3.72], [3.56, 3.74], [3.6, 3.42], [3.44, 3.14], [3.18, 3.06]],
    [[3.04, 3.28], [3.27, 3.5], [3.44, 3.62], [3.56, 3.6], [3.58, 3.34], [3.44, 3.16], [3.22, 3.1]],
    [[3.2, 3.28], [3.38, 3.44], [3.54, 3.44], [3.54, 3.2], [3.36, 3.12]],
    [[3.3, 3.3], [3.42, 3.38], [3.52, 3.36], [3.5, 3.22], [3.35, 3.18]],
    [[2.54, 3.12], [2.68, 3.3], [2.9, 3.26], [2.92, 3.1], [2.7, 3.02]],
    [[2.62, 3.18], [2.74, 3.24], [2.84, 3.2], [2.72, 3.1]],
    [[2.17, 3.4], [2.39, 3.58], [2.56, 3.26], [2.39, 2.9], [2.21, 3.04]],
    [[2.24, 3.34], [2.38, 3.46], [2.48, 3.26], [2.37, 3.02], [2.27, 3.12]],
    [[3.23, 3.78], [3.37, 3.98], [3.56, 4.04], [3.63, 3.84], [3.49, 3.52]],
    [[3.33, 3.76], [3.42, 3.9], [3.54, 3.92], [3.57, 3.78], [3.46, 3.62]],
];
const flowTicksX = [1.6, 2, 3, 4, 5];
const flowTicksY = [1.54, 2, 3, 4, 5];

function heatColor(v: number) {
    const t = Math.min(Math.abs(v) / 2, 1);
    if (v >= 0) return `rgb(${Math.round(255 * t)},0,0)`;
    return `rgb(0,${Math.round(136 * t)},${Math.round(230 * t)})`;
}

function Txt({ x, y, size = 14, bold = false, italic = false, color = "#111", rotate = 0, children }: any) {
    return (
        <div
            style={{
                position: "absolute",
                left: x,
                top: y,
                transform: `translate(-50%,-50%) rotate(${rotate}deg)`,
                fontFamily: FONT,
                fontSize: size,
                fontWeight: bold ? "bold" : "normal",
                fontStyle: italic ? "italic" : "normal",
                color,
                whiteSpace: "nowrap",
                lineHeight: 1,
            }}
        >
            {children}
        </div>
    );
}

const Sup = ({ children }: any) => (
    <span style={{ fontSize: "62%", position: "relative", top: "-0.55em" }}>{children}</span>
);

function Rule({ x1, x2, y }: { x1: number; x2: number; y: number }) {
    return <div style={{ position: "absolute", left: x1, top: y - 0.75, width: x2 - x1, height: 1.5, background: "#111" }} />;
}

// heatmap: one stacked horizontal bar per gene, one equal segment per sample
function Heatmap({ matrix, genes, left, top, width, height, labelWidth = 0 }: any) {
    const cols = matrix[0].length;
    const table = matrix.map((row: number[], i: number) => {
        const item: any = { name: genes ? genes[i] : `r${i}` };
        row.forEach((_, c) => (item[`c${c}`] = 1));
        return item;
    });
    return (
        <div style={{ position: "absolute", left: left - labelWidth, top, filter: "blur(0.45px)" }}>
            <BarChart
                layout="vertical"
                width={width + labelWidth}
                height={height}
                data={table}
                margin={{ top: 0, right: 0, bottom: 0, left: 0 }}
                barCategoryGap={0}
            >
                <XAxis type="number" domain={[0, cols]} hide />
                <YAxis
                    type="category"
                    dataKey="name"
                    width={labelWidth}
                    hide={!genes}
                    interval={0}
                    tickLine={false}
                    axisLine={false}
                    tickSize={0}
                    tickMargin={3}
                    tick={{ fontSize: 9.8, fill: "#111", fontFamily: FONT }}
                />
                {matrix[0].map((_: number, c: number) => (
                    <Bar key={c} dataKey={`c${c}`} stackId="a" isAnimationActive={false}>
                        {matrix.map((row: number[], i: number) => (
                            <Cell key={i} fill={heatColor(row[c])} stroke={heatColor(row[c])} strokeWidth={0.5} />
                        ))}
                    </Bar>
                ))}
            </BarChart>
        </div>
    );
}

function Colorbar({ left, top, width, height = 5 }: any) {
    return <Heatmap matrix={[colorbarSteps]} left={left} top={top} width={width} height={height} />;
}

const toPts = (pairs: number[][]) => pairs.map(([x, y]) => ({ x, y }));
const dot = (r: number, fill: string) => (p: any) => <circle cx={p.cx} cy={p.cy} r={r} fill={fill} />;

// scatter plot geometry: plot area 389 x 260.7 px, axes cross at zero
const SC = { left: 60, top: 25, right: 21, bottom: 24.3, w: 470, h: 310 };
const zeroX = SC.left + (389 * 5) / 30;
const zeroY = SC.top + (260.7 * 25) / 30;

function ScatterXTick({ x, payload }: any) {
    return (
        <g>
            <line x1={x} x2={x} y1={zeroY} y2={zeroY + 8} stroke="#111" strokeWidth={2} />
            <text x={x} y={zeroY + 29} textAnchor="middle" fontSize={17} fontWeight="bold" fontFamily={FONT} fill="#111">
                {payload.value}
            </text>
        </g>
    );
}

function ScatterYTick({ y, payload }: any) {
    return (
        <g>
            <line x1={zeroX - 8} x2={zeroX} y1={y} y2={y} stroke="#111" strokeWidth={2} />
            <text x={zeroX - 11} y={y + 6} textAnchor="end" fontSize={17} fontWeight="bold" fontFamily={FONT} fill="#111">
                {payload.value}
            </text>
        </g>
    );
}

function Volcano() {
    return (
        <div style={{ position: "absolute", left: 340, top: 30 }}>
            <ScatterChart width={SC.w} height={SC.h} margin={{ top: SC.top, right: SC.right, bottom: SC.bottom - 1, left: SC.left - 1 }}>
                <XAxis type="number" dataKey="x" domain={[-5, 25]} ticks={scatterTicks} interval={0} height={1} axisLine={false} tickLine={false} tick={<ScatterXTick />} />
                <YAxis type="number" dataKey="y" domain={[-5, 25]} ticks={scatterTicks} interval={0} width={1} axisLine={false} tickLine={false} tick={<ScatterYTick />} />
                <ReferenceLine y={0} stroke="#111" strokeWidth={2} />
                <ReferenceLine x={0} stroke="#111" strokeWidth={2} />
                <Scatter data={toPts(grayPts)} fill="#cfcfcf" isAnimationActive={false} shape={dot(1.9, "#cfcfcf")} />
                <Scatter data={toPts(redPts)} fill="#f00000" isAnimationActive={false} shape={dot(1.8, "#f00000")} />
                <Scatter data={toPts(bluePts)} fill="#2a96ea" isAnimationActive={false} shape={dot(1.7, "#2a96ea")} />
                <Scatter data={toPts(blackPts)} fill="#000" isAnimationActive={false} shape={dot(1.9, "#000")} />
                {calloutSegments.map((s, i) => (
                    <ReferenceLine key={i} segment={[{ x: s[0], y: s[1] }, { x: s[2], y: s[3] }]} stroke="#111" strokeWidth={1.2} ifOverflow="visible" />
                ))}
            </ScatterChart>
        </div>
    );
}

function BarTick({ x, y, payload, plus }: any) {
    const label = String(payload.value);
    return (
        <g>
            <line x1={x} x2={x} y1={y - 8} y2={y - 3} stroke="#111" strokeWidth={1.5} />
            <text x={x + 4} y={y + 2} textAnchor="end" fontSize={12} fontWeight="bold" fontFamily={FONT} fill="#111" transform={`rotate(-45 ${x + 4} ${y + 2})`}>
                {label === "TN" ? (
                    <>
                        T<tspan fontSize={8.5} dy={2}>N</tspan>
                    </>
                ) : plus ? (
                    <>
                        H<tspan fontSize={8.5} dy={-3}>{label[1]}</tspan>
                        <tspan dy={3}> Treg</tspan>
                    </>
                ) : (
                    label
                )}
            </text>
        </g>
    );
}

function ExprBars({ names, means, errs, axisX, ticks, domainMax, sup, tickFmt }: any) {
    const data = names.map((name: string, i: number) => ({ name, mean: means[i], err: errs[i] }));
    const yw = 50;
    return (
        <div style={{ position: "absolute", left: axisX - yw, top: 798 }}>
            <BarChart width={yw + 161 + 4} height={160} data={data} margin={{ top: 10.3, right: 4, bottom: 0, left: 0 }} barSize={33}>
                <XAxis
                    dataKey="name"
                    height={42.3}
                    interval={0}
                    padding={{ left: 8, right: 8 }}
                    stroke="#111"
                    strokeWidth={1.5}
                    tickLine={false}
                    tick={<BarTick plus={sup} />}
                />
                <YAxis
                    type="number"
                    domain={[0, domainMax]}
                    ticks={ticks}
                    interval={0}
                    width={yw}
                    stroke="#111"
                    strokeWidth={1.5}
                    tickSize={4}
                    tickFormatter={tickFmt}
                    tick={{ fontSize: 12, fontWeight: "bold", fill: "#111", fontFamily: FONT }}
                />
                <Bar dataKey="mean" fill="#000" isAnimationActive={false}>
                    <ErrorBar dataKey="err" direction="y" width={12} stroke="#000" strokeWidth={1.3} />
                </Bar>
            </BarChart>
        </div>
    );
}

function FlowXTick({ x, payload }: any) {
    const v = payload.value;
    return (
        <text x={x} y={133} textAnchor="middle" fontSize={7} fontFamily={FONT} fill="#444">
            {v < 2 ? "0" : (<>10<tspan fontSize={5} dy={-2}>{v}</tspan></>)}
        </text>
    );
}

function FlowYTick({ y, payload }: any) {
    const v = payload.value;
    return (
        <text x={15} y={y + 3} textAnchor="end" fontSize={7} fontFamily={FONT} fill="#444">
            {v < 2 ? "0" : (<>10<tspan fontSize={5} dy={-2}>{v}</tspan></>)}
        </text>
    );
}

function FlowPlot() {
    return (
        <div style={{ position: "absolute", left: 314, top: 797 }}>
            <ScatterChart width={141} height={150} margin={{ top: 0, right: 0, bottom: 28, left: 19 }}>
                <XAxis type="number" dataKey="x" domain={[1.12, 5.39]} ticks={flowTicksX} interval={0} height={1} axisLine={false} tickLine={false} tick={<FlowXTick />} />
                <YAxis type="number" dataKey="y" domain={[1.07, 5.39]} ticks={flowTicksY} interval={0} width={1} axisLine={false} tickLine={false} tick={<FlowYTick />} />
                <ReferenceArea x1={1.12} x2={5.39} y1={1.07} y2={5.39} fill="none" stroke="#777" strokeWidth={1.2} />
                <ReferenceLine x={2.78} stroke="#777" strokeWidth={1} />
                <ReferenceLine y={3.2} stroke="#777" strokeWidth={1} />
                {flowContours.map((c, i) => (
                    <Scatter key={i} data={toPts(c)} isAnimationActive={false} line={{ stroke: "#555", strokeWidth: 0.8, fill: "none" }} lineType="joint" lineJointType="basisClosed" shape={() => <g />} />
                ))}
            </ScatterChart>
        </div>
    );
}

function FlowGate({ label, left, top, width }: any) {
    return (
        <div style={{ position: "absolute", left, top, width, overflow: "hidden", fontFamily: FONT, fontSize: 14, color: "#222", letterSpacing: 0.5, lineHeight: 1, whiteSpace: "nowrap" }}>
            {label}
        </div>
    );
}

function HeliosPair({ y, plus, minus, size = 16.5 }: any) {
    return (
        <>
            <Txt x={plus} y={y} size={size}>Helios<Sup>+</Sup> Treg</Txt>
            <Txt x={minus} y={y} size={size}>Helios<Sup>-</Sup> Treg</Txt>
        </>
    );
}

export default function App() {
    return (
        <div style={{ position: "absolute", left: 0, top: 0, width: 800, height: 958, background: "#fff", overflow: "hidden" }}>
            {/* A */}
            <Txt x={10} y={15} size={22} bold>A</Txt>
            <HeliosPair y={8} plus={122} minus={258} />
            {sampleLabels.map((s, i) => (
                <Txt key={i} x={[77, 102, 129, 155, 184, 209, 238, 264, 289, 317][i]} y={38} size={14} bold>{s}</Txt>
            ))}
            <Heatmap matrix={heatA} left={64} top={44} width={266} height={268} />
            <Colorbar left={63} top={325} width={267} />
            <Txt x={69} y={343} size={15} bold>-2.0</Txt>
            <Txt x={196} y={343} size={15} bold>0.0</Txt>
            <Txt x={328} y={343} size={15} bold>2.0</Txt>

            {/* B */}
            <Txt x={10} y={398} size={22} bold>B</Txt>
            <Txt x={150} y={394} size={16.5}>Apoptosis</Txt>
            <Txt x={408} y={394} size={16.5}>Cytokines &amp; Receptors</Txt>
            <Txt x={681} y={394} size={16.5}>TNFSF &amp; TNFRSF</Txt>
            <HeliosPair y={429} plus={113} minus={215} />
            <HeliosPair y={429} plus={365} minus={467} />
            <HeliosPair y={429} plus={633} minus={734} />
            <Heatmap matrix={apoptosisHeat} genes={apoptosisGenes} left={64} top={441} width={203} height={248} labelWidth={50} />
            <Heatmap matrix={cytokineHeat} genes={cytokineGenes} left={317} top={441} width={205} height={248} labelWidth={50} />
            <Heatmap matrix={tnfHeat} genes={tnfGenes} left={581} top={441} width={204} height={248} labelWidth={50} />
            <Colorbar left={64} top={697} width={204} />
            <Colorbar left={317} top={697} width={205} />
            <Colorbar left={580} top={697} width={205} />
            {[[61, 165, 258], [317, 421, 515], [580, 685, 778]].map((xs, i) => (
                <React.Fragment key={i}>
                    <Txt x={xs[0]} y={713} size={15} bold>-2.0</Txt>
                    <Txt x={xs[1]} y={713} size={15} bold>0.0</Txt>
                    <Txt x={xs[2]} y={713} size={15} bold>2.0</Txt>
                </React.Fragment>
            ))}

            {/* C */}
            <Txt x={410} y={13} size={22} bold>C</Txt>
            <Volcano />
            {calloutLabels.map(([t, x, y]: any) => (
                <Txt key={t} x={x} y={y} size={14}>{t}</Txt>
            ))}
            <Txt x={414} y={185} size={21} bold rotate={-90}>Log2Mean(neg)</Txt>
            <Txt x={595} y={327} size={21} bold>Log2Mean(pos)</Txt>

            {/* D */}
            <Txt x={10} y={762} size={22} bold>D</Txt>
            <Txt x={177} y={760} size={16} bold italic>Pde3b</Txt>
            <Txt x={55} y={860} size={12.5} rotate={-90}>Relative mRNA expression</Txt>
            <ExprBars names={pde3bNames} means={pde3bMeans} errs={pde3bErrs} axisX={97} ticks={[0, 0.05, 0.1, 0.15]} domainMax={0.15} tickFmt={(v: number) => v.toFixed(2)} />
            <Rule x1={129} x2={228} y={802} />
            <Rule x1={129} x2={178} y={818} />
            <Rule x1={177} x2={226} y={856} />
            <Txt x={180} y={797} size={13}>***</Txt>
            <Txt x={154} y={813} size={13}>**</Txt>
            <Txt x={202} y={851} size={13}>**</Txt>

            <FlowPlot />
            <FlowGate label="9.8" left={336} top={800} width={30} />
            <FlowGate label="43" left={441.7} top={800} width={13} />
            <FlowGate label="17" left={338} top={906} width={30} />
            <FlowGate label="30" left={441.7} top={906} width={13} />
            <Txt x={300} y={853} size={15} bold rotate={-90}>CD73 e450</Txt>
            <Txt x={398} y={947} size={15} bold>Helios FITC</Txt>

            <Txt x={649} y={759} size={16} bold italic>Satb1</Txt>
            <Txt x={551} y={860} size={12.5} rotate={-90}>Relative mRNA expression</Txt>
            <ExprBars names={satb1Names} means={satb1Means} errs={satb1Errs} axisX={586} ticks={[0, 0.5, 1, 1.5]} domainMax={1.5} sup tickFmt={(v: number) => v.toFixed(1)} />
            <Rule x1={617} x2={717} y={783} />
            <Rule x1={617} x2={667} y={803} />
            <Rule x1={665} x2={714} y={819} />
            <Txt x={668} y={778} size={13}>*</Txt>
            <Txt x={643} y={795} size={14}>ns</Txt>
            <Txt x={690} y={813} size={13}>**</Txt>
        </div>
    );
}
